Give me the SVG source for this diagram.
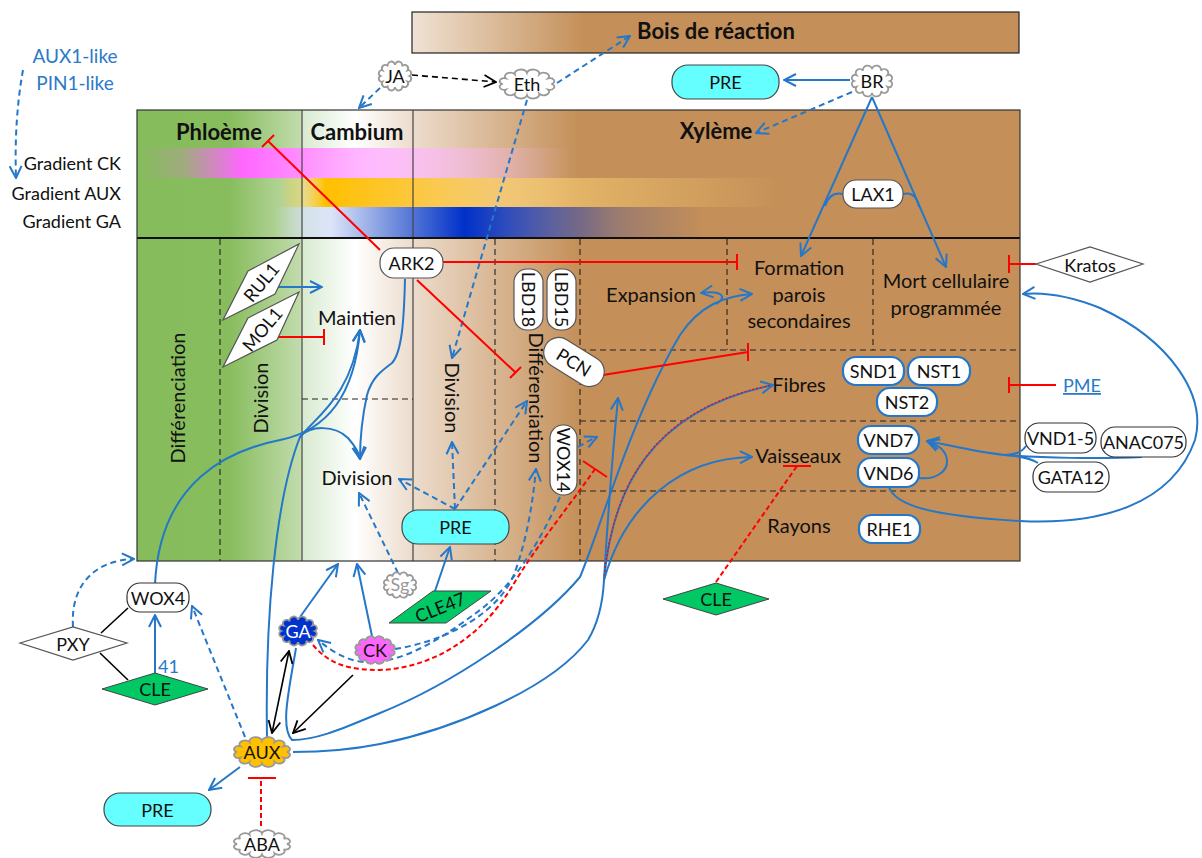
<svg xmlns="http://www.w3.org/2000/svg" width="1202" height="858" viewBox="0 0 1202 858">
<style>
text{font-family:Lato,'Liberation Sans',sans-serif;fill:#111}
.h{font-size:22px;font-weight:bold;text-anchor:middle}
.lab{font-size:20px;text-anchor:middle}
.vl{font-size:20px;text-anchor:middle;dominant-baseline:central}
.n{font-size:18px;text-anchor:middle;dominant-baseline:central}
.g{font-size:18px;text-anchor:end}
.bt{fill:#2A7AC8}
.frame{fill:none;stroke:#333;stroke-width:1.2}
.sol{stroke:#444;stroke-width:1.2}
.dsh{stroke:#222;stroke-width:1.1;stroke-dasharray:6 4}
.bl{fill:none;stroke:#2577C8;stroke-width:2}
.bd{fill:none;stroke:#2577C8;stroke-width:2;stroke-dasharray:6 4}
.ab{marker-end:url(#ab)}
.ak{marker-end:url(#ak)}
.rd{fill:none;stroke:#f00;stroke-width:2}
.rdd{fill:none;stroke:#f00;stroke-width:2;stroke-dasharray:5 3}
.k{fill:none;stroke:#000;stroke-width:1.6}
.kd{fill:none;stroke:#000;stroke-width:1.6;stroke-dasharray:6 4}
.pre{fill:#66ffff;stroke:#444;stroke-width:1.2}
.wn{fill:#fff;stroke:#555;stroke-width:1.2}
.bn{fill:#fff;stroke:#2577C8;stroke-width:2.2}
.kn{fill:#fff;stroke:#333;stroke-width:1.2}
.cle{fill:#00c864;stroke:#444;stroke-width:1}
.cl{stroke:#999;stroke-width:1.8}
</style>
<defs>
<linearGradient id="gFrame" gradientUnits="userSpaceOnUse" x1="137" y1="0" x2="1020" y2="0">
<stop offset="0" stop-color="#86bc5c"/>
<stop offset="0.105" stop-color="#88bd5e"/>
<stop offset="0.1857" stop-color="#c2dcad"/>
<stop offset="0.1869" stop-color="#d8ead0"/>
<stop offset="0.2469" stop-color="#ffffff"/>
<stop offset="0.3126" stop-color="#ecdccc"/>
<stop offset="0.5017" stop-color="#c48f58"/>
<stop offset="1" stop-color="#c48f58"/>
</linearGradient>
<linearGradient id="gBois" gradientUnits="userSpaceOnUse" x1="412" y1="0" x2="1019" y2="0">
<stop offset="0" stop-color="#efe2d4"/>
<stop offset="0.285" stop-color="#c48f58"/>
<stop offset="1" stop-color="#c48f58"/>
</linearGradient>
<linearGradient id="gCK" gradientUnits="userSpaceOnUse" x1="140" y1="0" x2="570" y2="0">
<stop offset="0" stop-color="#ff66ff" stop-opacity="0"/>
<stop offset="0.1" stop-color="#ff66ff" stop-opacity="0.2"/>
<stop offset="0.24" stop-color="#ff66ff" stop-opacity="1"/>
<stop offset="0.5" stop-color="#ffb4ff" stop-opacity="1"/>
<stop offset="0.64" stop-color="#ffb4ff" stop-opacity="0.7"/>
<stop offset="1" stop-color="#ffb4ff" stop-opacity="0"/>
</linearGradient>
<linearGradient id="gAUX" gradientUnits="userSpaceOnUse" x1="280" y1="0" x2="785" y2="0">
<stop offset="0" stop-color="#ffc000" stop-opacity="0"/>
<stop offset="0.04" stop-color="#f0d060" stop-opacity="0.5"/>
<stop offset="0.09" stop-color="#ffc000" stop-opacity="1"/>
<stop offset="0.27" stop-color="#fcc840" stop-opacity="1"/>
<stop offset="0.45" stop-color="#f8cc70" stop-opacity="0.8"/>
<stop offset="1" stop-color="#f8cc70" stop-opacity="0"/>
</linearGradient>
<linearGradient id="gGA" gradientUnits="userSpaceOnUse" x1="275" y1="0" x2="705" y2="0">
<stop offset="0" stop-color="#c8d8f0" stop-opacity="0"/>
<stop offset="0.06" stop-color="#d0dcf0" stop-opacity="0.6"/>
<stop offset="0.13" stop-color="#dce4f8" stop-opacity="1"/>
<stop offset="0.3" stop-color="#6080d8" stop-opacity="1"/>
<stop offset="0.44" stop-color="#0030c8" stop-opacity="1"/>
<stop offset="0.62" stop-color="#0030c8" stop-opacity="0.6"/>
<stop offset="0.8" stop-color="#0030c8" stop-opacity="0.2"/>
<stop offset="1" stop-color="#0030c8" stop-opacity="0"/>
</linearGradient>
<marker id="ab" viewBox="0 0 14 14" refX="13" refY="7" markerWidth="14" markerHeight="14" markerUnits="userSpaceOnUse" orient="auto-start-reverse">
<path d="M1,1 L13,7 L1,13" fill="none" stroke="#2577C8" stroke-width="2" stroke-dasharray="none"/>
</marker>
<marker id="ak" viewBox="0 0 14 14" refX="13" refY="7" markerWidth="14" markerHeight="14" markerUnits="userSpaceOnUse" orient="auto-start-reverse">
<path d="M1,1 L13,7 L1,13" fill="none" stroke="#000" stroke-width="1.8" stroke-dasharray="none"/>
</marker>
<path id="cloud" vector-effect="non-scaling-stroke" d="M-20,0 A1,1 0 0 1 -17.3,-7 A1,1 0 0 1 -10,-12.1 A1,1 0 0 1 0,-14 A1,1 0 0 1 10,-12.1 A1,1 0 0 1 17.3,-7 A1,1 0 0 1 20,0 A1,1 0 0 1 17.3,7 A1,1 0 0 1 10,12.1 A1,1 0 0 1 0,14 A1,1 0 0 1 -10,12.1 A1,1 0 0 1 -17.3,7 A1,1 0 0 1 -20,0 Z"/>
</defs>

<g id="background">
<rect x="412" y="12" width="607" height="41" fill="url(#gBois)" stroke="#222" stroke-width="1.2"/>
<rect x="137" y="110" width="883" height="451" fill="url(#gFrame)"/>
<rect x="140" y="148" width="430" height="30" fill="url(#gCK)"/>
<rect x="280" y="178" width="505" height="29" fill="url(#gAUX)"/>
<rect x="275" y="207" width="430" height="30" fill="url(#gGA)"/>
<line class="sol" x1="302" y1="110" x2="302" y2="561"/>
<line class="sol" x1="413" y1="110" x2="413" y2="561"/>
<line x1="137" y1="238" x2="1020" y2="238" stroke="#111" stroke-width="2"/>
<line class="dsh" x1="220" y1="239" x2="220" y2="561"/>
<line class="dsh" x1="495" y1="239" x2="495" y2="561"/>
<line class="dsh" x1="580" y1="239" x2="580" y2="561"/>
<line class="dsh" x1="727" y1="239" x2="727" y2="350"/>
<line class="dsh" x1="873" y1="239" x2="873" y2="350"/>
<line class="dsh" x1="580" y1="350" x2="1020" y2="350"/>
<line class="dsh" x1="580" y1="421" x2="1020" y2="421"/>
<line class="dsh" x1="580" y1="491" x2="1020" y2="491"/>
<line class="dsh" x1="302" y1="399" x2="413" y2="399"/>
<rect class="frame" x="137" y="110" width="883" height="451"/>
</g>

<g id="labels">
<text class="h" x="716" y="39">Bois de réaction</text>
<text class="h" x="219" y="140">Phloème</text>
<text class="h" x="357" y="140">Cambium</text>
<text class="h" x="716" y="139">Xylème</text>
<text class="g" x="121" y="170">Gradient CK</text>
<text class="g" x="121" y="200">Gradient AUX</text>
<text class="g" x="121" y="228">Gradient GA</text>
<text class="bt" x="75" y="63" font-size="19" text-anchor="middle">AUX1-like</text>
<text class="bt" x="75" y="90" font-size="19" text-anchor="middle">PIN1-like</text>
<text class="vl" transform="translate(177,398) rotate(-90)">Différenciation</text>
<text class="vl" transform="translate(260,398) rotate(-90)">Division</text>
<text class="lab" x="357" y="325">Maintien</text>
<text class="lab" x="357" y="485">Division</text>
<text class="vl" transform="translate(453,398) rotate(90)">Division</text>
<text class="vl" transform="translate(537,398) rotate(90)">Différenciation</text>
<text class="lab" x="651" y="302">Expansion</text>
<text class="lab" x="799" y="275">Formation</text>
<text class="lab" x="799" y="302">parois</text>
<text class="lab" x="799" y="328">secondaires</text>
<text class="lab" x="946" y="288">Mort cellulaire</text>
<text class="lab" x="946" y="315">programmée</text>
<text class="lab" x="799" y="392">Fibres</text>
<text class="lab" x="798" y="463">Vaisseaux</text>
<text class="lab" x="799" y="533">Rayons</text>
<text class="bt" x="158" y="673" font-size="18">41</text>
<text class="bt" x="1063" y="392" font-size="18" text-decoration="underline">PME</text>
</g>

<g id="connectors">
<path class="bl ab" d="M850,80 L784,80"/>
<path class="bl ab" d="M872,97 L801,256"/>
<path class="bl ab" d="M872,97 L946,267"/>
<path class="bl" d="M843,194 Q830,191 825,206"/>
<path class="bl" d="M903,194 Q916,191 919,207"/>
<path class="bl ab" d="M405,279 C404,320 402,352 392,363 C380,372 372,378 367,395 C362,418 360,440 360,459"/>
<path class="bl ab" d="M155,584 C160,480 230,450 280,440 C330,430 355,390 360,330"/>
<path class="bl ab" d="M267,737 C265,620 275,500 300,437 C318,415 352,395 360,330"/>
<path class="bl ab" d="M300,437 C310,425 335,425 348,438 C355,446 359,452 360,459"/>
<path class="bl ab" d="M277,287 L322,287"/>
<path class="bl ab" d="M155,673 L155,615"/>
<path class="bl ab" d="M300,617 L338,564"/>
<path class="bl ab" d="M372,636 L357,564"/>
<path class="bl ab" d="M435,591 L450,547"/>
<path class="bl ab" d="M240,767 L209,790"/>
<path class="bl ab" d="M296,648 C289,690 280,728 292,740 C320,740 350,725 380,713 C450,685 540,625 580,577 C600,530 630,420 680,335 C700,305 725,296 752,294"/>
<path class="bl ab" d="M716,304 C727,298 724,290 701,293"/>
<path class="bl" d="M293,752 C330,752 360,748 380,744 C450,730 550,690 588,640 C600,620 603,600 604,580"/>
<path class="bl ab" d="M604,580 C607,530 612,460 618,398"/>
<path class="bl ab" d="M604,580 C612,490 650,410 773,385" stroke-width="2.4"/>
<path d="M604,580 C612,490 650,410 770,385.5" fill="none" stroke="#f00" stroke-width="1.2" stroke-dasharray="2 2"/>
<path class="bl ab" d="M604,580 C625,505 680,458 752,457"/>
<path class="bl ab" d="M889,487 C895,505 930,516 1020,521 C1100,525 1172,505 1195,440 C1207,395 1170,340 1100,308 C1070,296 1045,292 1023,294"/>
<path class="bl ab" d="M1142,457 C1100,459 1040,458 1005,455 C975,452 950,445 927,441"/>
<path class="bl" d="M1026,446 C1022,452 1015,455 1005,455"/>
<path class="bl" d="M1038,463 C1030,458 1020,456 1005,455"/>
<path class="bl ab" d="M919,478 C935,480 948,472 947,460 C946,450 938,445 927,441"/>
<path class="bd ab" d="M23,70 Q14,120 16,178"/>
<path class="bd ab" d="M380,88 L359,108"/>
<path class="bd ab" d="M557,83 L630,36"/>
<path class="bd ab" d="M527,100 L452,358"/>
<path class="bd ab" d="M852,92 L756,133"/>
<path class="bd ab" d="M73,627 C70,580 100,560 134,559"/>
<path class="bd ab" d="M245,737 L192,606"/>
<path class="bd ab" d="M398,573 L359,493" stroke-width="1.8"/>
<path class="bd ab" d="M455,509 L399,479"/>
<path class="bd ab" d="M455,509 L452,442"/>
<path class="bd ab" d="M455,509 L527,401"/>
<path class="bd ab" d="M395,649 C450,640 500,612 515,572 C528,535 533,500 536,469"/>
<path class="bd ab" d="M560,497 C545,530 520,580 480,610 C440,640 400,665 363,662 C345,660 330,650 318,640"/>
<path class="bd ab" d="M578,447 Q588,441 597,437"/>
<path class="kd ak" d="M412,75 L496,82"/>
<path class="k" d="M101,633 L128,608"/>
<path class="k" d="M100,653 L128,680"/>
<path class="k" d="M272,733 L289,651" marker-start="url(#ak)" marker-end="url(#ak)"/>
<path class="k ak" d="M353,675 L293,733"/>
<path class="rd" d="M443,262 L737,262 M737,254 L737,270"/>
<path class="rd" d="M380,250 L268,141 M262,147 L274,135"/>
<path class="rd" d="M417,280 L515,372 M510,378 L521,367"/>
<path class="rd" d="M277,337 L324,337 M324,329 L324,345"/>
<path class="rd" d="M603,375 L748,352 M748,343 L748,361"/>
<path class="rd" d="M1036,264 L1009,264 M1009,255 L1009,273"/>
<path class="rd" d="M1056,385 L1009,385 M1009,377 L1009,393"/>
<path class="rdd" d="M716,582 L797,466"/>
<path class="rd" d="M783,466 L811,466"/>
<path class="rdd" d="M313,645 C330,665 350,670 380,670 C430,668 480,640 513,585 C535,548 570,505 595,469"/>
<path class="rd" d="M583,461 L607,477"/>
<path class="rdd" d="M261,826 L261,778"/>
<path class="rd" d="M248,778 L276,778"/>
</g>

<g id="node-JA"><use href="#cloud" class="cl" fill="#fff" transform="translate(395,76) scale(0.72,0.8)"/><text class="n" x="395" y="76">JA</text></g>
<g id="node-Eth"><use href="#cloud" class="cl" fill="#fff" transform="translate(527,84) scale(1.22,0.8)"/><text class="n" x="527" y="84">Eth</text></g>
<g id="node-BR"><use href="#cloud" class="cl" fill="#fff" transform="translate(872,81) scale(0.9,0.85)"/><text class="n" x="872" y="81">BR</text></g>
<g id="node-PRE-top"><rect class="pre" x="672" y="65" width="107" height="34" rx="16"/><text class="n" x="725.5" y="82">PRE</text></g>
<g id="node-LAX1"><rect class="wn" x="843" y="180" width="60" height="28" rx="13"/><text class="n" x="873" y="194">LAX1</text></g>
<g id="node-ARK2"><rect class="wn" x="380" y="248" width="63" height="30" rx="14"/><text class="n" x="411.5" y="263">ARK2</text></g>
<g id="node-RUL1"><polygon class="wn" points="248,271 299,244 275,294 223,320"/><text class="n" transform="translate(261,282) rotate(-50)" font-size="17">RUL1</text></g>
<g id="node-MOL1"><polygon class="wn" points="248,318 299,292 277,340 223,367"/><text class="n" transform="translate(262,329) rotate(-50)" font-size="17">MOL1</text></g>
<g id="node-LBD18"><rect class="wn" x="514" y="269" width="29" height="61" rx="13"/><text class="n" transform="translate(528.5,299.5) rotate(90)">LBD18</text></g>
<g id="node-LBD15"><rect class="wn" x="547" y="269" width="29" height="61" rx="13"/><text class="n" transform="translate(561.5,299.5) rotate(90)">LBD15</text></g>
<g id="node-PCN" transform="rotate(32,574,362)"><rect class="wn" x="541" y="347" width="66" height="30" rx="15"/><text class="n" x="574" y="362">PCN</text></g>
<g id="node-WOX14"><rect class="wn" x="550" y="425" width="27" height="70" rx="13"/><text class="n" transform="translate(563.5,460) rotate(90)">WOX14</text></g>
<g id="node-PRE-mid"><rect class="pre" x="402" y="510" width="107" height="34" rx="16"/><text class="n" x="455.5" y="527">PRE</text></g>
<g id="node-SND1"><rect class="bn" x="843" y="357" width="61" height="28" rx="13"/><text class="n" x="873.5" y="371">SND1</text></g>
<g id="node-NST1"><rect class="bn" x="908" y="357" width="62" height="28" rx="13"/><text class="n" x="939" y="371">NST1</text></g>
<g id="node-NST2"><rect class="bn" x="877" y="388" width="60" height="28" rx="13"/><text class="n" x="907" y="402">NST2</text></g>
<g id="node-VND7"><rect class="bn" x="858" y="426" width="61" height="28" rx="13"/><text class="n" x="888.5" y="440">VND7</text></g>
<g id="node-VND6"><rect class="bn" x="858" y="458" width="61" height="29" rx="13"/><text class="n" x="888.5" y="472.5">VND6</text></g>
<g id="node-RHE1"><rect class="bn" x="859" y="515" width="61" height="28" rx="13"/><text class="n" x="889.5" y="529">RHE1</text></g>
<g id="node-VND1-5"><rect class="kn" x="1025" y="423" width="71" height="30" rx="14"/><text class="n" x="1060.5" y="438">VND1-5</text></g>
<g id="node-ANAC075"><rect class="kn" x="1101" y="427" width="85" height="30" rx="14"/><text class="n" x="1143.5" y="442" font-size="17">ANAC075</text></g>
<g id="node-GATA12"><rect class="kn" x="1033" y="462" width="76" height="30" rx="14"/><text class="n" x="1071" y="477">GATA12</text></g>
<g id="node-Kratos"><polygon class="wn" points="1036,264 1090,247 1143,264 1090,282"/><text class="n" x="1090" y="264.5">Kratos</text></g>
<g id="node-Sg"><use href="#cloud" class="cl" fill="#fff" transform="translate(400,585) scale(0.72,0.7)"/><text class="n" x="400" y="584" style="fill:#999">Sg</text></g>
<g id="node-CLE47"><polygon class="cle" points="389,623 433,591 491,591 446,623"/><text class="n" transform="translate(440,607) rotate(-22)">CLE47</text></g>
<g id="node-CLE-right"><polygon class="cle" points="663,599 716,583 769,599 716,615"/><text class="n" x="716" y="599">CLE</text></g>
<g id="node-WOX4"><rect class="kn" x="127" y="583" width="62" height="29" rx="13"/><text class="n" x="158" y="597.5">WOX4</text></g>
<g id="node-PXY"><polygon class="wn" points="20,643 73,627 127,643 73,660"/><text class="n" x="73" y="644">PXY</text></g>
<g id="node-CLE-left"><polygon class="cle" points="102,689 155,673 208,689 155,705"/><text class="n" x="155" y="689">CLE</text></g>
<g id="node-GA"><use href="#cloud" class="cl" fill="#0033cc" transform="translate(298,631) scale(0.84,0.8)"/><text class="n" x="298" y="631" style="fill:#fff">GA</text></g>
<g id="node-CK"><use href="#cloud" class="cl" fill="#ff66ff" transform="translate(375,650) scale(0.88,0.76)"/><text class="n" x="375" y="650">CK</text></g>
<g id="node-AUX"><use href="#cloud" class="cl" fill="#ffc000" transform="translate(262,752) scale(1.25,0.82)"/><text class="n" x="262" y="752">AUX</text></g>
<g id="node-PRE-bottom"><rect class="pre" x="104" y="793" width="107" height="33" rx="16"/><text class="n" x="157.5" y="809.5">PRE</text></g>
<g id="node-ABA"><use href="#cloud" class="cl" fill="#fff" transform="translate(262,844) scale(1.25,0.76)"/><text class="n" x="262" y="844">ABA</text></g>
</svg>
